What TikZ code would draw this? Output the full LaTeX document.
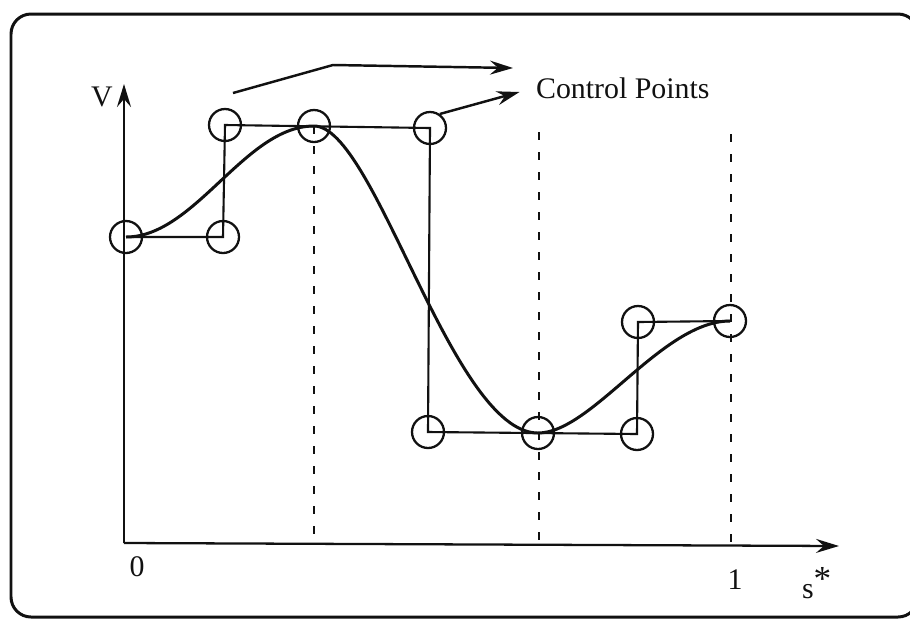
\documentclass[tikz,border=0pt]{standalone}
\usepackage{fontspec}
\setmainfont{Liberation Serif}
\usetikzlibrary{arrows.meta,positioning,calc}
\definecolor{cInk}{HTML}{111111}
\tikzset{
  >={Stealth[length=4.6mm,width=2.8mm,inset=1.6mm]},
  frame/.style ={draw=cInk,line width=1.7pt,rounded corners=4mm},
  axis/.style  ={->,line width=1.3pt,cInk},
  ptc/.style   ={circle,draw=cInk,line width=1.3pt,minimum size=6.4mm,inner sep=0pt},
  poly/.style  ={line width=1.2pt,cInk},
  crv/.style   ={line width=1.7pt,cInk},
  drop/.style  ={cInk,line width=1pt,dash pattern=on 1.6mm off 2.4mm},
  ar/.style    ={->,line width=1.4pt,cInk},
  lbl/.style   ={font=\fontsize{17}{20}\selectfont,text=cInk,inner sep=1pt},
}

\begin{document}
\begin{tikzpicture}[x=0.2mm,y=-0.2mm]
\useasboundingbox (0,0) rectangle (910,625);
\draw[frame] (11,14) rectangle (918,617);
% axes
\coordinate (o) at (124,543);
\coordinate (ytop) at (124,84);
\coordinate (xend) at (839,546);
\draw[axis] (o) -- (ytop);
\draw[axis] (o) -- (xend);
\node[lbl] (vlab) at (102,97) {V};
\node[lbl] (zero) at (137,567) {0};
\node[lbl] (one) at (735,580) {1};
\node[lbl,anchor=base west] (slab) at (800,598) {s\raisebox{0.55ex}{\fontsize{20}{20}\selectfont *}};
% control points
\foreach \i/\px/\py in {0/126/237, 1/223/237, 2/225/125, 3/314/126, 4/430/128,
                        5/428/432, 6/538/433, 7/637/434, 8/638/322, 9/730/321}
  \node[ptc] (p\i) at (\px,\py) {};
\draw[poly] (p0.center) -- (p1.center) -- (p2.center) -- (p4.center) -- (p5.center)
  -- (p7.center) -- (p8.center) -- (p9.center);
% curve
\draw[crv] (p0.center) .. controls (195,237) and (245,126) .. (p3.center)
  .. controls (375,126) and (452,433) .. (p6.center)
  .. controls (592,433) and (662,321) .. (p9.center);
% drop lines
\coordinate (t6) at (539,132);
\coordinate (t9) at (731,134);
\draw[drop] (p3.center) -- (p3.center |- o);
\draw[drop] (t6) -- (t6 |- o);
\draw[drop] (t9) -- (t9 |- o);
% label
\node[lbl,anchor=west] (cp) at (534,88) {Control Points};
\coordinate (c1) at (233,93);
\coordinate (c2) at (333,65);
\coordinate (tip1) at (513,68);
\draw[ar] (c1) -- (c2) -- (tip1);
\draw[ar,shorten >=3mm] (p4.55) -- (cp.west);
\end{tikzpicture}
\end{document}
